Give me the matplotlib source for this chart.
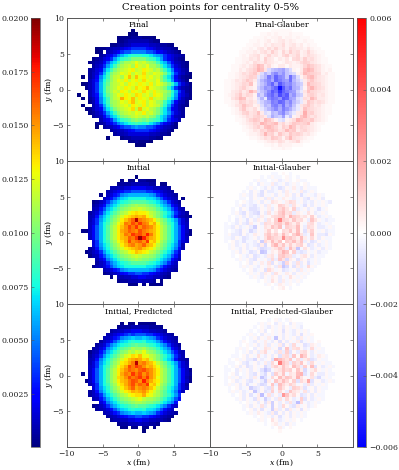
import numpy as np
import matplotlib
matplotlib.use("Agg")
import matplotlib.pyplot as plt

plt.rcParams['font.family'] = ['DejaVu Serif']
plt.rcParams['mathtext.fontset'] = 'dejavuserif'

TITLE = "Creation points for centrality 0-5%"
TITLES_LEFT = ["Final", "Initial", "Initial, Predicted"]
TITLES_RIGHT = ["Final-Glauber", "Initial-Glauber", "Initial, Predicted-Glauber"]
TICKS_AXIS = [-10, -5, 0, 5, 10]
TICKS_LEFT_BAR = [0.0025, 0.0050, 0.0075, 0.0100, 0.0125, 0.0150, 0.0175, 0.0200]
TICKS_RIGHT_BAR = [-0.006, -0.004, -0.002, 0.0, 0.002, 0.004, 0.006]

# (row from top, first column, levels).
# Density levels: 0-9 a-z A-D, about 0.0005 apart; '.' is an empty cell.
FINAL = [
    (3, 18, "0"), (4, 17, "010"), (5, 14, "01112221110"), (6, 14, "112333333211"),
    (7, 12, "112234555554432211"), (8, 8, "01123445678888765443321"),
    (9, 8, "01.3456899aaaa9986654321"), (10, 9, "23568acefgggffecba865432"),
    (11, 7, "123568beghikkkkihgeb865321"), (12, 6, "123469cehkmmnpnomlkhec964321"),
    (13, 7, "2458behkmnomqonpmmkheb85421"), (14, 6, "2356aehkmnopqnoqpomnkhea6532"),
    (15, 6, "2458cgkmnpoqnporonponkgc85421"), (16, 4, "0.246aehlnompsospqopnolhea64210"),
    (17, 6, "357bfilnpoqnpqorponplifb7531"), (18, 4, "01358cgjmnopnqpoqpoqnpomjgc8531"),
    (19, 5, "1358cgkmnpoqporpqsponmkgc85321"), (20, 6, "358cgkmonqpnqporpoqonmkgc8521"),
    (21, 3, "0..357bfjlnpoqporqopnqpoljfb7531"), (22, 4, "0.246aehlnotqpsoqpornonlhea6421"),
    (23, 6, "136aehlmnpoqsopqnpomlhea6431"), (24, 4, "0..358cgkmnopnqpoqnponkgc85321"),
    (25, 5, "01356aehkmnoprnsopnmkhea6532"), (26, 6, "12458behkmnonpoqnomkheb8542"),
    (27, 7, "23469cehklmnonmnlkhec96432"), (28, 9, "3568beghiklkjkihgeb8653"),
    (29, 8, "123568acefghgfgeca86531"), (30, 8, "0.23456899abaa998654321"),
    (31, 12, "234456788887654321"), (32, 13, "2334555555443221"),
    (33, 11, "0...122333332211"), (34, 17, "1121110"), (35, 19, "000"),
]
INITIAL = [
    (4, 19, "0"), (5, 15, "1.11.22111"), (6, 14, "12223333322.11"),
    (7, 12, "33445566665544332"), (8, 11, "3456788999988765432"),
    (9, 9, "1.4578abccccccba875432"), (10, 10, "4579bdefffffeedb97543.1"),
    (11, 7, "12458acefghiiiihgfeca8542"), (12, 7, "2357acegijklmllkjigeca753"),
    (13, 7, "3479cegiklmnnonmlkigec9743"), (14, 6, "2458begikmnpqrqqpnmkigeb8542"),
    (15, 6, "347adfikmoqrststqomkifda74321"), (16, 6, "358begjlnqsuwCvutsqnljgeb853"),
    (17, 6, "458cfhkmprvuxvyvurtpmkhfc854"), (18, 6, "469cfilnqsuxvyuwvusqnlifc964"),
    (19, 4, "11469cfilnqtuwvuxvutsqnlifc9641"), (20, 6, "469cfilnqsvuywxvzvsqnlifc9631"),
    (21, 6, "469cfilnqstwvyDzvtsqnlifc964"), (22, 7, "58cfhkmprtxuvwuyrspmkhfc854"),
    (23, 7, "58begjlnqsuvtuwtsqnljgeb83"), (24, 6, "247adfikmoqrstusrqomkifda73"),
    (25, 5, "12458begikmnpqsrqpnmkigeb85"), (26, 6, "13479cegiklmnonmmlkigec974"),
    (27, 8, "357acegijklmlkkjigeca753"), (28, 8, "2458acefghiiiihgfeca854"),
    (29, 7, "134579bdeffffffeedb97543"), (30, 10, "34578abccccccba875432"),
    (31, 10, "1234567889988765432"), (32, 12, "1.334455665544321"),
    (33, 14, "12233343332.1"), (34, 17, "111.1.1111"),
]
PREDICTED = [
    (5, 15, "1.11.11111"), (6, 14, "1222333332221"), (7, 12, "2344556665544332"),
    (8, 11, "3456789899988765432"), (9, 10, "34578abcdccdcba875432"),
    (10, 9, "24579bdefgffgeedb97543"), (11, 8, "2458acefghijiihgfeca8542"),
    (12, 7, "2357acegijkmllmkjigeca753"), (13, 6, "13479cegiklnmonpmlkigec9743"),
    (14, 6, "2458begikmoprqsppnmkigeb853"), (15, 6, "347adfikmoqstutrsomkifda7432"),
    (16, 6, "358begjlnqrtvCuvtsqnljgeb853"), (17, 6, "458cfhkmprtxvywustrpmkhfc854"),
    (18, 6, "469cfilnqsuwvuwxvusqnlifc9641"), (19, 4, "1.469cfilnqtvuyvxuwusqnlifc9642"),
    (20, 6, "469cfilnrsuxvwyvyuspnlifc9631"), (21, 5, "1469cfilnqstvxwuzvtrqnlifc9641"),
    (22, 6, "358cfhkmprtvxuwvyrspmkhfc852"), (23, 7, "58begjlnqsuwtuvusqnljgeb853"),
    (24, 6, "247adfikmoqrtstusqomkifda74"), (25, 6, "2458begikmnpqrrtqpnmkigeb8"),
    (26, 7, "3479cegiklmnopnmmlkigec97"), (27, 9, "57acegijklmmlkkjigeca7"),
    (28, 7, "12458acefghijiihgfeca854"), (29, 8, "234579bdefgffgeedb9754"),
    (30, 10, "34578abcdccdcba875432"), (31, 11, "2345678899887654321"),
    (32, 12, "23344556655443321"), (33, 14, "122333433221"),
    (34, 15, "11.11.11.1"), (35, 21, "0"),
]
# Difference levels: A..Z above zero, a..z below zero, '.' is zero.
FINAL_DIFF = [
    (3, 17, "AAAAAA"), (4, 14, "AABABAAABAAA"), (5, 12, "AAABABBCABBABAAA"),
    (6, 11, "AABABCABCDBCBAABAA"), (7, 10, "AABBACBDCCEBCDBCABAA"),
    (8, 9, "AABACDBECFCDBEDCCBDBAA"), (9, 8, "AABBCBDECGDBFCGDEBCFCBAA"),
    (10, 8, "ABACDEBCFCDBEGCDFBCEDCBA"), (11, 7, "AABBDCEBGDCACBDAEFCGDECBAA"),
    (12, 7, "AABCBEDCFDCBABDCBCEGFDCBAA"), (13, 6, "AABCBDFJHCEBACCACBBCFIGEDBAA"),
    (14, 6, "AACBDEGKIDcefghecBACIKIEDBAB"), (15, 5, "AABCEDFHDcfdhjgiedcBDJHGFEBCAA"),
    (16, 5, "AABCDEGFbdfkhmjielgcBEIJFDCBAA"), (17, 4, "AABDCEHFCcfhjgmkihlfdbCFHEDCBAA"),
    (18, 4, "AABCDFEIBcegjmhnkijgedCJGFECBAA"), (19, 4, "AABCEGDCBdfihkmtnjlgfcBHKGEDBAA"),
    (20, 4, "AACDFCEKGcegjnlqmkihdbDIFEDCBAA"), (21, 4, "ABCEHDFEBfdhkmjolngiedCFGECDBAA"),
    (22, 4, "AADFJICDBcfbjlkinmhgcbEDJGCCBAA"), (23, 4, "AABCGFDECbdfgkjmlhjfdbCHFDEDBAA"),
    (24, 5, "ABDEIFEBCcfejkhlgiebDFHECDBAA"), (25, 6, "ABEHDCEBbdfhjgkigdbCIFEDCBAA"),
    (26, 6, "ABCFGDEICcbfehjfdbCDLFGDCBAA"), (27, 7, "ABCEDFGECcgedhbeBCHKFDECBA"),
    (28, 7, "AABDFHGDJHEBbcBCEKIGFHDCBA"), (29, 8, "ABCDFEKIGHJDFCEHGFGICBAA"),
    (30, 9, "ABCEGDIJHFCGEKHDFEDCBA"), (31, 9, "AABDCFEHIGDEJGHCEFDCBA"),
    (32, 10, "ABBCEKFGCHEDHFGECDBA"), (33, 11, "AABCEDHGEBFJEDCBAA"),
    (34, 13, "AABCDCEDBCDFBAA"), (35, 15, "AABACBBBAAA"), (36, 17, "AAABAA"),
]
INITIAL_DIFF = [
    (3, 17, "aa.A.a"), (4, 14, "a.aAaa.Aa.a"), (5, 12, "aAaa.aAbaAa.Aaa"),
    (6, 11, "a.bAaaBbaAbaAa.Aa"), (7, 10, "aAa.abAbacbAaBabAaaa"),
    (8, 9, "a.bAacAbbaAbBaAaBbaAa."), (9, 8, "aAabAbcAaAbAaBAbAcaAabAa"),
    (10, 8, "aa.bAaAbBbAaBAabaAbcAaAb"), (11, 7, "a.AabaAbAaCBAaBDCaAbabAaAab"),
    (12, 7, "aAbabcaAbBaAEDBbCAacAbAaAa"), (13, 6, "a.bAaccbAaBbADFCAEbaAbAacaA."),
    (14, 6, "aAbcAbcdAbCaBEGCDbBAaCAbaAa."), (15, 5, "a.aAbAbabBaACDEFBHEDBCAEAbaAa."),
    (16, 5, "a.bAacAbBAbCAEMEDBFCDAbFCAabaa"), (17, 4, "a.abAbcBaAbDCBEFCGDBEAaCDAbaAa."),
    (18, 4, "aabAbaAbeAaCBFDGaEDCGAbDCAbbaAa"), (19, 4, "a.abcAadbAaBEAC.DCFBGAcBEAaAbaa"),
    (20, 4, "aAbbcAbaBAaDFCEBGCAEHCbaFAbbcAa"), (21, 4, "aabAacbaAbaCGEDCLEFDBGBaDAbAaa."),
    (22, 4, "a.AbacaabAeDBGCF.EDGCFbAcbAaAa"), (23, 5, "aAbaAbabcBdAEHCFBEBDEAcbAbaAa"),
    (24, 5, "aAabAbaAbdcbBCFDbGCfaCAbaAbAa"), (25, 6, "aAbAacbAfeaBADHFAEbcbAaAbaa"),
    (26, 6, "a.AabAcbabBCaEFDCbaBCAbAaa"), (27, 7, "aAaAbcAaAbDbFCdBAcBAbaAa"),
    (28, 8, "a.AbAaBaCcAbeDAbCbAcaAa"), (29, 8, "aAaAabAaBAbCfdAcBbaDAa"),
    (30, 9, "a.AbaAcDBaAcbaAbBaAa"), (31, 10, "aAaAbBAbCAaBAbAaAa"),
    (32, 11, "aAabAaBAbAaCAaAa"), (33, 13, "a.AaCAbBaAaAa"),
    (34, 15, "aA.aBAaA.a"), (35, 17, "a.AB.a"),
]
PREDICTED_DIFF = [
    (4, 16, "a.Aa.aA"), (5, 13, "aAaA.bAa.bAaa"), (6, 12, "a.AabAaAbAaAab"),
    (7, 11, "a.aAb.AaAcAabAaAa"), (8, 10, "aAa.bAaAaAbAabAcAaA"),
    (9, 9, "a.aAbAaBafAbAaAbBaAa."), (10, 8, "aA.abAaBabAcAbAaBcaAa.A"),
    (11, 8, "a.AaAbaBbAaBcAbDaAcbBAa."), (12, 7, "aAaA.bAaCBaAdaFbCDAbaDaAa."),
    (13, 7, "a.aAbAbBDaAbCbEcAbCDAbAaa."), (14, 6, "aa.AbAaCabAbAcCDbFAHEAbaBAa."),
    (15, 5, "a.AaAbbdAbaAcIGECFaDbBDcbAaa."), (16, 5, "aa.AbcaAbaBbDANFDbECFAbDAaAaa"),
    (17, 4, "a.aAbAcbAaAdbCEBFCAGDbEAGcAbaAa"), (18, 4, "aa.bAaAbAacfdaBCFDEAFBdaBDAaAa."),
    (19, 4, "a.Ab.aAbcAbdAcEBFaCBGHcaDAbbAaa"), (20, 4, "aAaAbaAbBafcaDAGCFEBHCAaCbdaAa."),
    (21, 4, "a.AbaAbcaAbeBaFCGDAEcDBIcAAbaAa"), (22, 4, "aAaAbAcaAbdcAFbGDBECaAbCbAaAa."),
    (23, 5, "a.AbaAecbAbcDaFCAbEDBcaAbAaa"), (24, 5, "aAaAbaAfbAcbEaDAbFCBaCbAbAa."),
    (25, 6, "a.AbAcaBgaCbAbKFBDAcbAbAaa"), (26, 7, "aAbAacBaebAbCaDAbaEcAbaAa"),
    (27, 8, "a.AaAbAcBeAbAbCbgDabaAa"), (28, 9, "aAbAaCbAeAbDAbcBaAbaA"),
    (29, 9, "a.AbAcAaeBbAcBaAcAa."), (30, 10, "aAaBAabBcAbAbAaAa"),
    (31, 12, "a.AaAbAcaAbAaAa"), (32, 13, "aAa.CAbaAaA.a"),
    (33, 15, "a.ABaAbAa"), (34, 17, "a.Ba.A"), (35, 19, "A"),
]
# Value of one level in each difference panel: (above zero, below zero).
DIFF_STEPS = [(0.00016, 0.00028), (0.00022, 0.00022), (0.00022, 0.00022)]
# Values of the ten lowest density levels, 0-9.
LOW_LEVELS = [0.0001, 0.0003, 0.0006, 0.0009, 0.0012, 0.0016, 0.0021, 0.0027, 0.0034, 0.0042]

ALPHABET = "0123456789abcdefghijklmnopqrstuvwxyzABCD"
N = 40
EDGES = np.linspace(-10, 10, N + 1)


def density_grid(rows):
    g = np.full((N, N), np.nan)
    for r, c, s in rows:
        for k, ch in enumerate(s):
            if ch != ".":
                idx = ALPHABET.index(ch)
                g[N - 1 - r, c + k] = LOW_LEVELS[idx] if idx < 10 else (idx + 0.2) * 0.0005
    return g


def diff_grid(rows, steps):
    g = np.zeros((N, N))
    for r, c, s in rows:
        for k, ch in enumerate(s):
            if ch != ".":
                level = ord(ch.lower()) - 96
                g[N - 1 - r, c + k] = level * steps[0] if ch.isupper() else -level * steps[1]
    return g


W, H = 399, 470
fig = plt.figure(figsize=(W / 100, H / 100), dpi=100)
X0, X1, X2 = 66.7, 210.0, 353.2
YT = [18.0, 161.0, 304.0, 447.0]
FS = 5.6
SPINE = "#555555"

jet = plt.get_cmap("jet").copy()
jet.set_bad("white")
mesh_l = mesh_r = None
for i in range(3):
    axl = fig.add_axes([X0 / W, 1 - YT[i + 1] / H, (X1 - X0) / W, (YT[i + 1] - YT[i]) / H])
    axr = fig.add_axes([X1 / W, 1 - YT[i + 1] / H, (X2 - X1) / W, (YT[i + 1] - YT[i]) / H])
    left = [FINAL, INITIAL, PREDICTED][i]
    right = [FINAL_DIFF, INITIAL_DIFF, PREDICTED_DIFF][i]
    mesh_l = axl.pcolormesh(EDGES, EDGES, np.ma.masked_invalid(density_grid(left)),
                            cmap=jet, vmin=0.00003, vmax=0.02)
    mesh_r = axr.pcolormesh(EDGES, EDGES, diff_grid(right, DIFF_STEPS[i]),
                            cmap="bwr", vmin=-0.006, vmax=0.006)
    axl.text(0, 9.0, TITLES_LEFT[i], ha="center", va="center", fontsize=FS)
    axr.text(0, 9.0, TITLES_RIGHT[i], ha="center", va="center", fontsize=FS)
    for ax in (axl, axr):
        ax.set_xlim(-10, 10)
        ax.set_ylim(-10, 10)
        ax.set_xticks(TICKS_AXIS)
        ax.set_yticks(TICKS_AXIS)
        ax.tick_params(direction="in", top=True, right=True, length=2, width=0.5,
                       labelsize=FS, pad=2, color=SPINE, labelcolor="#222222")
        for s in ax.spines.values():
            s.set_linewidth(0.7)
            s.set_color(SPINE)
    axl.set_yticklabels(["", "\u22125", "0", "5", "10"])
    axr.set_yticklabels([])
    axl.set_ylabel("$y$ (fm)", fontsize=FS, labelpad=-1.5)
    if i == 2:
        axl.set_xticklabels(["\u221210", "\u22125", "0", "5", ""])
        axr.set_xticklabels(["\u221210", "\u22125", "0", "5", ""])
        axl.set_xlabel("$x$ (fm)", fontsize=FS, labelpad=0)
        axr.set_xlabel("$x$ (fm)", fontsize=FS, labelpad=0)
    else:
        axl.set_xticklabels([])
        axr.set_xticklabels([])

cl = fig.add_axes([31.3 / W, 1 - 447 / H, 9 / W, 429 / H])
cb = fig.colorbar(mesh_l, cax=cl, ticks=TICKS_LEFT_BAR, format="%.4f")
cl.yaxis.set_ticks_position("left")
cr = fig.add_axes([357.3 / W, 1 - 447 / H, 9 / W, 429 / H])
cb2 = fig.colorbar(mesh_r, cax=cr, ticks=TICKS_RIGHT_BAR, format="%.3f")
cb2.set_ticklabels(["\u22120.006", "\u22120.004", "\u22120.002", "0.000", "0.002", "0.004", "0.006"])
for c, b in ((cl, cb), (cr, cb2)):
    c.tick_params(direction="in", length=2, width=0.4, labelsize=FS, pad=2,
                  color=SPINE, labelcolor="#222222")
    b.outline.set_linewidth(0.5)
    b.outline.set_edgecolor(SPINE)

fig.text(210 / W, 1 - 8 / H, TITLE, ha="center", va="center", fontsize=7.2)
fig.savefig("out.png", dpi=100)
